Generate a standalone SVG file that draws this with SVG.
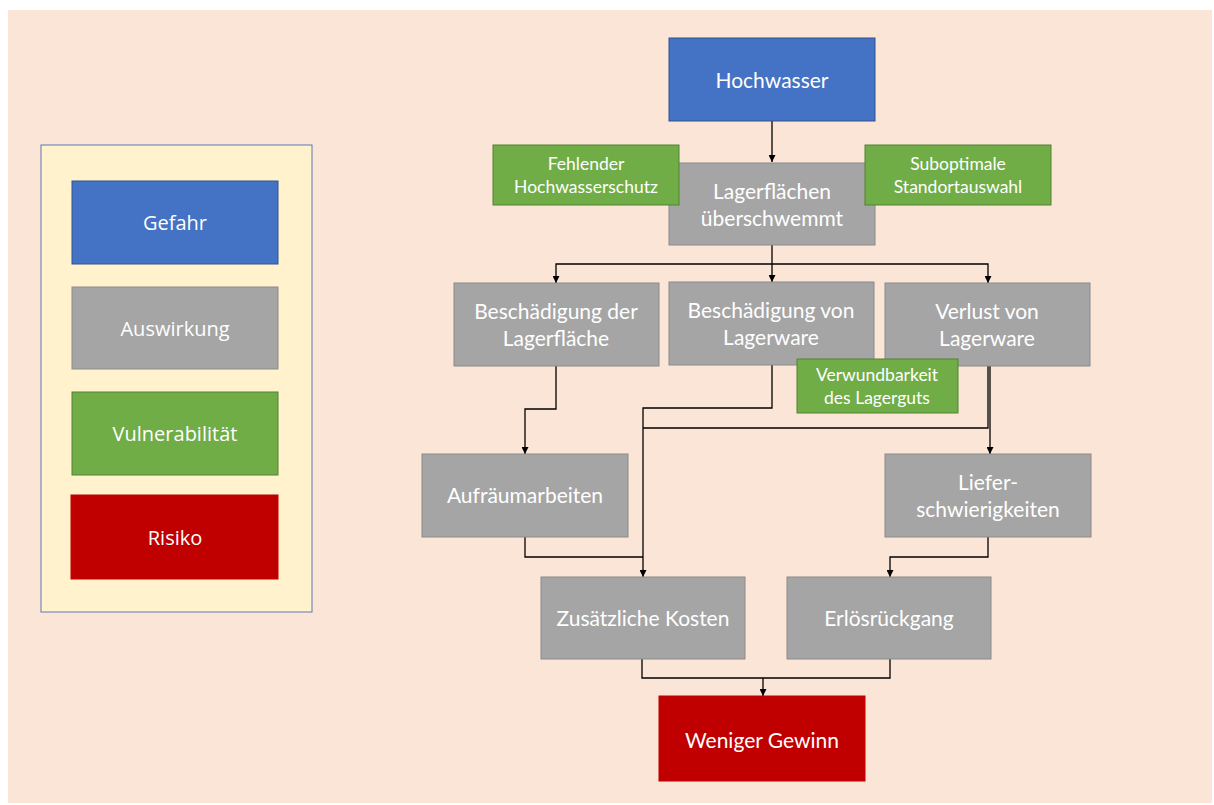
<svg xmlns="http://www.w3.org/2000/svg" width="1214" height="805" viewBox="0 0 1214 805">
<defs>
<marker id="arr" viewBox="0 0 10 10" refX="10" refY="5" markerWidth="7" markerHeight="7" markerUnits="userSpaceOnUse" orient="auto">
<path d="M0,0 L10,5 L0,10 z" fill="#000"/>
</marker>
<style>
.n text{font-family:Lato,"Liberation Sans",sans-serif;font-size:21px;fill:#fff;text-anchor:middle}
.g text{font-size:17.5px}
.leg text{font-family:"Open Sans","Liberation Sans",sans-serif;font-size:20px;fill:#fff;text-anchor:middle}
.blue{fill:#4472C4;stroke:#2F528F;stroke-width:1}
.gray{fill:#A5A5A5;stroke:#8B8B8B;stroke-width:1}
.grn{fill:#70AD47;stroke:#548235;stroke-width:1}
.red{fill:#C00000;stroke:#C00000;stroke-width:1}
.c path{fill:none;stroke:#000;stroke-width:1.3}
</style>
</defs>
<rect x="0" y="0" width="1214" height="805" fill="#fff"/>
<rect x="8" y="10" width="1204" height="793" fill="#FBE5D6"/>

<g id="legend" class="leg">
<rect x="41" y="145" width="271" height="467" fill="#FFF2CC" stroke="#5B7BB0" stroke-width="1"/>
<g id="leg-gefahr"><rect class="blue" x="72" y="181" width="206" height="83"/><text x="175" y="230">Gefahr</text></g>
<g id="leg-auswirkung"><rect class="gray" x="72" y="287" width="206" height="82"/><text x="175" y="336">Auswirkung</text></g>
<g id="leg-vuln"><rect class="grn" x="72" y="392" width="206" height="83"/><text x="175" y="441">Vulnerabilität</text></g>
<g id="leg-risiko"><rect class="red" x="71" y="495" width="207" height="84"/><text x="175" y="545">Risiko</text></g>
</g>

<g id="connectors" class="c">
<path d="M772,121 V162" marker-end="url(#arr)"/>
<path d="M772,245 V282" marker-end="url(#arr)"/>
<path d="M772,264 H556 V283" marker-end="url(#arr)"/>
<path d="M772,264 H988 V283" marker-end="url(#arr)"/>
<path d="M556,366 V409 H525 V454" marker-end="url(#arr)"/>
<path d="M772,365 V408 H643 V577" marker-end="url(#arr)"/>
<path d="M988,366 V428 H643"/>
<path d="M990,366 V454" marker-end="url(#arr)"/>
<path d="M525,537 V557 H643"/>
<path d="M988,537 V557 H890 V577" marker-end="url(#arr)"/>
<path d="M642,659 V678 H890 V659"/>
<path d="M763,678 V696" marker-end="url(#arr)"/>
</g>

<g id="hochwasser" class="n"><rect class="blue" x="669" y="38" width="206" height="83"/><text x="772" y="88">Hochwasser</text></g>
<g id="lagerflaechen" class="n"><rect class="gray" x="669" y="163" width="206" height="82"/><text x="772" y="199">Lagerflächen</text><text x="772" y="226">überschwemmt</text></g>
<g id="fehlender" class="n g"><rect class="grn" x="493" y="145" width="186" height="60"/><text x="586" y="170">Fehlender</text><text x="586" y="193">Hochwasserschutz</text></g>
<g id="suboptimale" class="n g"><rect class="grn" x="865" y="145" width="186" height="60"/><text x="958" y="170">Suboptimale</text><text x="958" y="193">Standortauswahl</text></g>
<g id="besch-flaeche" class="n"><rect class="gray" x="454" y="283" width="205" height="83"/><text x="556" y="319">Beschädigung der</text><text x="556" y="346">Lagerfläche</text></g>
<g id="besch-ware" class="n"><rect class="gray" x="669" y="282" width="205" height="83"/><text x="771" y="318">Beschädigung von</text><text x="771" y="345">Lagerware</text></g>
<g id="verlust" class="n"><rect class="gray" x="885" y="283" width="205" height="83"/><text x="987" y="319">Verlust von</text><text x="987" y="346">Lagerware</text></g>
<g id="verwundbarkeit" class="n g"><rect class="grn" x="797" y="359" width="161" height="54"/><text x="877" y="381">Verwundbarkeit</text><text x="877" y="404">des Lagerguts</text></g>
<g id="aufraeum" class="n"><rect class="gray" x="422" y="454" width="206" height="83"/><text x="525" y="503">Aufräumarbeiten</text></g>
<g id="liefer" class="n"><rect class="gray" x="885" y="454" width="206" height="83"/><text x="988" y="490">Liefer-</text><text x="988" y="517">schwierigkeiten</text></g>
<g id="zusaetzlich" class="n"><rect class="gray" x="541" y="577" width="204" height="82"/><text x="643" y="626">Zusätzliche Kosten</text></g>
<g id="erloes" class="n"><rect class="gray" x="787" y="577" width="204" height="82"/><text x="889" y="626">Erlösrückgang</text></g>
<g id="weniger" class="n"><rect class="red" x="659" y="696" width="206" height="85"/><text x="762" y="748">Weniger Gewinn</text></g>
</svg>
